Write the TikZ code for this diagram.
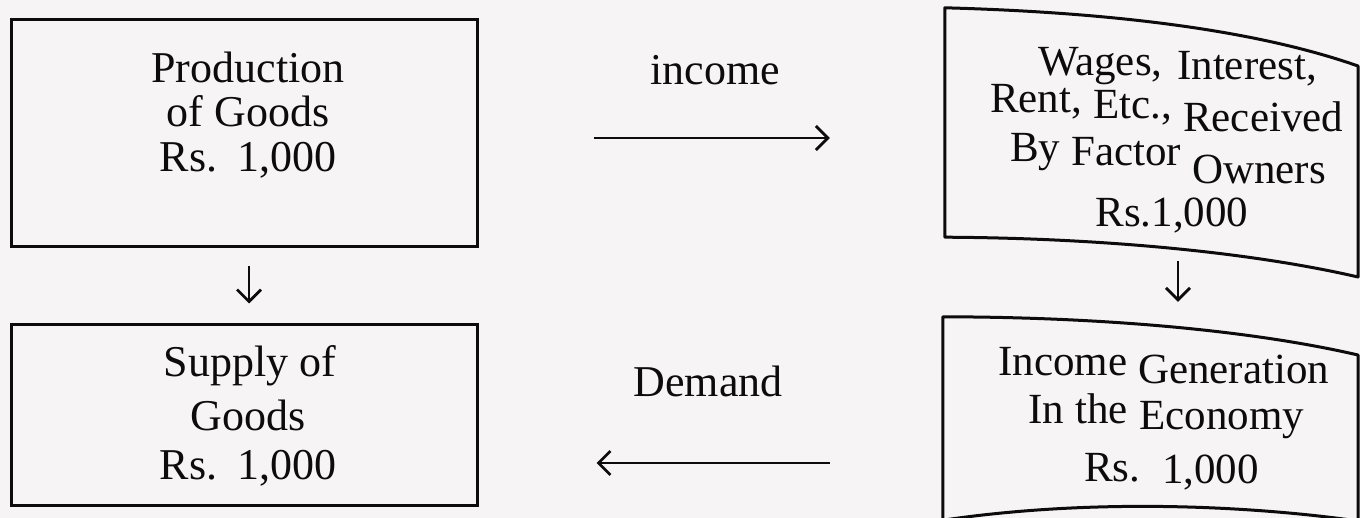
\documentclass[tikz,border=0pt]{standalone}
\usepackage{fontspec}
\setmainfont{Liberation Serif}
\usetikzlibrary{arrows.meta}
\definecolor{paper}{RGB}{246,244,244}
\definecolor{ink}{RGB}{12,12,12}
\begin{document}
\begin{tikzpicture}[x=1pt,y=-1pt,
  box/.style={draw=ink, line width=3pt, minimum width=466pt, inner sep=0pt},
  area/.style={inner sep=0pt},
  txt/.style={anchor=base, inner sep=0pt, font=\fontsize{44}{48}\selectfont, text=ink},
  wtxt/.style={anchor=base west, inner sep=0pt, font=\fontsize{43}{48}\selectfont, text=ink},
  arr/.style={draw=ink, line width=2.8pt, -{Straight Barb[length=12pt,width=24pt]}},
  curvebox/.style={draw=ink, line width=3pt, line join=round}]
\fill[paper] (0,0) rectangle (1360,518);
\useasboundingbox (0,0) rectangle (1360,518);
\begin{scope}
\clip (0,0) rectangle (1360,518);
% left boxes
\node[box, minimum height=227pt] (prod) at (244,133.5) {};
\node[box, minimum height=180pt] (supp) at (244,415) {};
% right box areas
\node[area, minimum width=413pt, minimum height=229pt] (wage) at (1151.5,122.5) {};
\node[area, minimum width=415pt, minimum height=203pt] (inc) at (1150.5,418.5) {};
\draw[curvebox] (wage.north west) .. controls (1100,12) and (1250,28) .. (1358,66)
  -- (1358,277) .. controls (1250,252) and (1100,238) .. (wage.south west) -- cycle;
\draw[curvebox] (inc.north west) .. controls (1100,317) and (1250,330) .. (1358,355)
  -- (1358,521) .. controls (1260,507) and (1100,497) .. (inc.south west) -- cycle;
\end{scope}
% texts left
\node[txt] (p1) at (248,83) {Production};
\node[txt] (p2) at (248,127) {of Goods};
\node[txt] (p3) at (248,172) {Rs.\hspace{0.45em}1,000};
\node[txt] (s1) at (250,377) {Supply of};
\node[txt] (s2) at (248,430) {Goods};
\node[txt] (s3) at (248,479) {Rs.\hspace{0.45em}1,000};
% texts right, upper box (words step down with the curl of the page)
\node[wtxt] (w1a) at (1038,76) {Wages,};
\node[wtxt] (w1b) at (1177,80) {Interest,};
\node[wtxt] (w2a) at (990,113) {Rent,};
\node[wtxt] (w2b) at (1093,119) {Etc.,};
\node[wtxt] (w2c) at (1183,132) {Received};
\node[wtxt] (w3a) at (1010,162) {By};
\node[wtxt] (w3b) at (1071,166) {Factor};
\node[wtxt] (w3c) at (1192,184) {Owners};
\node[txt, font=\fontsize{43}{48}\selectfont] (w4) at (1172,227) {Rs.1,000};
% texts right, lower box
\node[wtxt] (i1a) at (998,376) {Income};
\node[wtxt] (i1b) at (1138,384) {Generation};
\node[wtxt] (i2a) at (1028,423) {In};
\node[wtxt] (i2b) at (1075,424) {the};
\node[wtxt] (i2c) at (1139,429) {Economy};
\node[wtxt] (i3a) at (1084,481) {Rs.};
\node[wtxt] (i3b) at (1162,483) {1,000};
% arrow labels
\node[txt] (lin) at (715,85) {income};
\node[txt] (ldem) at (708,397) {Demand};
% arrows
\draw[arr, shorten <=115pt, shorten >=115pt] ([yshift=-4.5pt]prod.east) -- ([yshift=-15.5pt]wage.west);
\draw[arr, shorten <=113pt, shorten >=118pt] ([yshift=-44.5pt]inc.west) -- ([yshift=-48pt]supp.east);
\draw[arr, shorten <=18pt, shorten >=20pt] ([xshift=5pt]prod.south) -- ([xshift=5pt]supp.north);
\draw[arr, shorten <=24pt, shorten >=15pt] ([xshift=26.5pt]wage.south) -- ([xshift=27.5pt]inc.north);
\end{tikzpicture}
\end{document}
